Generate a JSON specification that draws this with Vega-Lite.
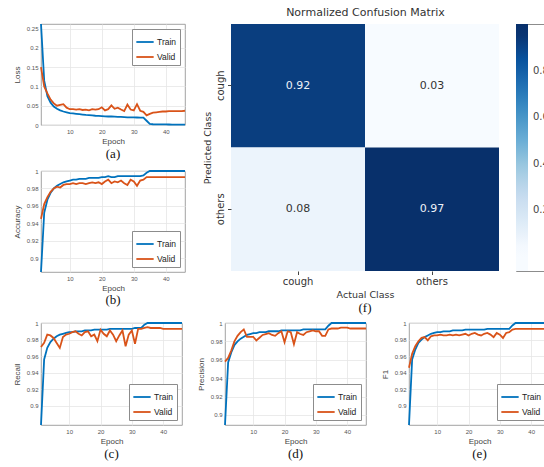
{
  "$schema": "https://vega.github.io/schema/vega-lite/v6.json",
  "background": "white",
  "padding": {"left": 12, "top": 6, "right": 0, "bottom": 0},
  "bounds": "flush",
  "spacing": 299,
  "resolve": {"scale": {"color": "independent"}, "legend": {"color": "independent"}},
  "datasets": {
    "loss": [
      {"epoch": 1, "Train": 0.262, "Valid": 0.150},
      {"epoch": 2, "Train": 0.115, "Valid": 0.100},
      {"epoch": 3, "Train": 0.075, "Valid": 0.082},
      {"epoch": 4, "Train": 0.058, "Valid": 0.066},
      {"epoch": 5, "Train": 0.048, "Valid": 0.056},
      {"epoch": 6, "Train": 0.042, "Valid": 0.050},
      {"epoch": 7, "Train": 0.038, "Valid": 0.052},
      {"epoch": 8, "Train": 0.035, "Valid": 0.054},
      {"epoch": 9, "Train": 0.033, "Valid": 0.045},
      {"epoch": 10, "Train": 0.031, "Valid": 0.041},
      {"epoch": 11, "Train": 0.030, "Valid": 0.041},
      {"epoch": 12, "Train": 0.029, "Valid": 0.040},
      {"epoch": 13, "Train": 0.028, "Valid": 0.041},
      {"epoch": 14, "Train": 0.027, "Valid": 0.039},
      {"epoch": 15, "Train": 0.026, "Valid": 0.040},
      {"epoch": 16, "Train": 0.0255, "Valid": 0.038},
      {"epoch": 17, "Train": 0.025, "Valid": 0.041},
      {"epoch": 18, "Train": 0.024, "Valid": 0.040},
      {"epoch": 19, "Train": 0.0235, "Valid": 0.041},
      {"epoch": 20, "Train": 0.023, "Valid": 0.046},
      {"epoch": 21, "Train": 0.0225, "Valid": 0.038},
      {"epoch": 22, "Train": 0.022, "Valid": 0.041},
      {"epoch": 23, "Train": 0.022, "Valid": 0.051},
      {"epoch": 24, "Train": 0.0215, "Valid": 0.042},
      {"epoch": 25, "Train": 0.021, "Valid": 0.045},
      {"epoch": 26, "Train": 0.021, "Valid": 0.040},
      {"epoch": 27, "Train": 0.0205, "Valid": 0.036},
      {"epoch": 28, "Train": 0.020, "Valid": 0.053},
      {"epoch": 29, "Train": 0.020, "Valid": 0.040},
      {"epoch": 30, "Train": 0.020, "Valid": 0.038},
      {"epoch": 31, "Train": 0.0195, "Valid": 0.054},
      {"epoch": 32, "Train": 0.019, "Valid": 0.037},
      {"epoch": 33, "Train": 0.019, "Valid": 0.034},
      {"epoch": 34, "Train": 0.011, "Valid": 0.025},
      {"epoch": 35, "Train": 0.003, "Valid": 0.029},
      {"epoch": 36, "Train": 0.002, "Valid": 0.032},
      {"epoch": 37, "Train": 0.0018, "Valid": 0.033},
      {"epoch": 38, "Train": 0.0016, "Valid": 0.034},
      {"epoch": 39, "Train": 0.0015, "Valid": 0.035},
      {"epoch": 40, "Train": 0.0014, "Valid": 0.035},
      {"epoch": 41, "Train": 0.0013, "Valid": 0.036},
      {"epoch": 42, "Train": 0.0012, "Valid": 0.036},
      {"epoch": 43, "Train": 0.0012, "Valid": 0.036},
      {"epoch": 44, "Train": 0.0011, "Valid": 0.036},
      {"epoch": 45, "Train": 0.0011, "Valid": 0.036},
      {"epoch": 46, "Train": 0.001, "Valid": 0.037}
    ],
    "accuracy": [
      {"epoch": 1, "Train": 0.884, "Valid": 0.945},
      {"epoch": 2, "Train": 0.952, "Valid": 0.962},
      {"epoch": 3, "Train": 0.967, "Valid": 0.970},
      {"epoch": 4, "Train": 0.975, "Valid": 0.976},
      {"epoch": 5, "Train": 0.980, "Valid": 0.980},
      {"epoch": 6, "Train": 0.983, "Valid": 0.982},
      {"epoch": 7, "Train": 0.985, "Valid": 0.981},
      {"epoch": 8, "Train": 0.987, "Valid": 0.984},
      {"epoch": 9, "Train": 0.988, "Valid": 0.985},
      {"epoch": 10, "Train": 0.989, "Valid": 0.985},
      {"epoch": 11, "Train": 0.990, "Valid": 0.986},
      {"epoch": 12, "Train": 0.990, "Valid": 0.985},
      {"epoch": 13, "Train": 0.991, "Valid": 0.986},
      {"epoch": 14, "Train": 0.991, "Valid": 0.986},
      {"epoch": 15, "Train": 0.991, "Valid": 0.985},
      {"epoch": 16, "Train": 0.992, "Valid": 0.986},
      {"epoch": 17, "Train": 0.992, "Valid": 0.987},
      {"epoch": 18, "Train": 0.992, "Valid": 0.986},
      {"epoch": 19, "Train": 0.992, "Valid": 0.987},
      {"epoch": 20, "Train": 0.993, "Valid": 0.985},
      {"epoch": 21, "Train": 0.993, "Valid": 0.988},
      {"epoch": 22, "Train": 0.994, "Valid": 0.990},
      {"epoch": 23, "Train": 0.993, "Valid": 0.986},
      {"epoch": 24, "Train": 0.993, "Valid": 0.988},
      {"epoch": 25, "Train": 0.994, "Valid": 0.987},
      {"epoch": 26, "Train": 0.994, "Valid": 0.989},
      {"epoch": 27, "Train": 0.994, "Valid": 0.986},
      {"epoch": 28, "Train": 0.994, "Valid": 0.984},
      {"epoch": 29, "Train": 0.994, "Valid": 0.990},
      {"epoch": 30, "Train": 0.994, "Valid": 0.988},
      {"epoch": 31, "Train": 0.994, "Valid": 0.983},
      {"epoch": 32, "Train": 0.994, "Valid": 0.989},
      {"epoch": 33, "Train": 0.995, "Valid": 0.990},
      {"epoch": 34, "Train": 0.998, "Valid": 0.993},
      {"epoch": 35, "Train": 1.0, "Valid": 0.993},
      {"epoch": 36, "Train": 1.0, "Valid": 0.993},
      {"epoch": 37, "Train": 1.0, "Valid": 0.993},
      {"epoch": 38, "Train": 1.0, "Valid": 0.993},
      {"epoch": 39, "Train": 1.0, "Valid": 0.993},
      {"epoch": 40, "Train": 1.0, "Valid": 0.993},
      {"epoch": 41, "Train": 1.0, "Valid": 0.993},
      {"epoch": 42, "Train": 1.0, "Valid": 0.993},
      {"epoch": 43, "Train": 1.0, "Valid": 0.993},
      {"epoch": 44, "Train": 1.0, "Valid": 0.993},
      {"epoch": 45, "Train": 1.0, "Valid": 0.993},
      {"epoch": 46, "Train": 1.0, "Valid": 0.993}
    ],
    "recall": [
      {"epoch": 1, "Train": 0.877, "Valid": 0.971},
      {"epoch": 2, "Train": 0.956, "Valid": 0.976},
      {"epoch": 3, "Train": 0.970, "Valid": 0.986},
      {"epoch": 4, "Train": 0.977, "Valid": 0.985},
      {"epoch": 5, "Train": 0.981, "Valid": 0.982},
      {"epoch": 6, "Train": 0.984, "Valid": 0.976},
      {"epoch": 7, "Train": 0.986, "Valid": 0.970},
      {"epoch": 8, "Train": 0.987, "Valid": 0.983},
      {"epoch": 9, "Train": 0.988, "Valid": 0.986},
      {"epoch": 10, "Train": 0.989, "Valid": 0.987},
      {"epoch": 11, "Train": 0.989, "Valid": 0.989},
      {"epoch": 12, "Train": 0.990, "Valid": 0.990},
      {"epoch": 13, "Train": 0.990, "Valid": 0.987},
      {"epoch": 14, "Train": 0.990, "Valid": 0.985},
      {"epoch": 15, "Train": 0.991, "Valid": 0.989},
      {"epoch": 16, "Train": 0.991, "Valid": 0.990},
      {"epoch": 17, "Train": 0.991, "Valid": 0.984},
      {"epoch": 18, "Train": 0.992, "Valid": 0.986},
      {"epoch": 19, "Train": 0.992, "Valid": 0.978},
      {"epoch": 20, "Train": 0.992, "Valid": 0.992},
      {"epoch": 21, "Train": 0.992, "Valid": 0.987},
      {"epoch": 22, "Train": 0.992, "Valid": 0.984},
      {"epoch": 23, "Train": 0.993, "Valid": 0.991},
      {"epoch": 24, "Train": 0.993, "Valid": 0.986},
      {"epoch": 25, "Train": 0.993, "Valid": 0.978},
      {"epoch": 26, "Train": 0.993, "Valid": 0.985},
      {"epoch": 27, "Train": 0.993, "Valid": 0.991},
      {"epoch": 28, "Train": 0.993, "Valid": 0.972},
      {"epoch": 29, "Train": 0.993, "Valid": 0.986},
      {"epoch": 30, "Train": 0.993, "Valid": 0.991},
      {"epoch": 31, "Train": 0.994, "Valid": 0.975},
      {"epoch": 32, "Train": 0.994, "Valid": 0.993},
      {"epoch": 33, "Train": 0.994, "Valid": 0.993},
      {"epoch": 34, "Train": 0.998, "Valid": 0.994},
      {"epoch": 35, "Train": 1.0, "Valid": 0.995},
      {"epoch": 36, "Train": 1.0, "Valid": 0.994},
      {"epoch": 37, "Train": 1.0, "Valid": 0.994},
      {"epoch": 38, "Train": 1.0, "Valid": 0.994},
      {"epoch": 39, "Train": 1.0, "Valid": 0.994},
      {"epoch": 40, "Train": 1.0, "Valid": 0.993},
      {"epoch": 41, "Train": 1.0, "Valid": 0.993},
      {"epoch": 42, "Train": 1.0, "Valid": 0.993},
      {"epoch": 43, "Train": 1.0, "Valid": 0.993},
      {"epoch": 44, "Train": 1.0, "Valid": 0.993},
      {"epoch": 45, "Train": 1.0, "Valid": 0.993},
      {"epoch": 46, "Train": 1.0, "Valid": 0.993}
    ],
    "precision": [
      {"epoch": 1, "Train": 0.889, "Valid": 0.958},
      {"epoch": 2, "Train": 0.957, "Valid": 0.962},
      {"epoch": 3, "Train": 0.968, "Valid": 0.970},
      {"epoch": 4, "Train": 0.976, "Valid": 0.980},
      {"epoch": 5, "Train": 0.980, "Valid": 0.986},
      {"epoch": 6, "Train": 0.983, "Valid": 0.990},
      {"epoch": 7, "Train": 0.985, "Valid": 0.993},
      {"epoch": 8, "Train": 0.987, "Valid": 0.985},
      {"epoch": 9, "Train": 0.988, "Valid": 0.985},
      {"epoch": 10, "Train": 0.989, "Valid": 0.985},
      {"epoch": 11, "Train": 0.989, "Valid": 0.981},
      {"epoch": 12, "Train": 0.990, "Valid": 0.984},
      {"epoch": 13, "Train": 0.990, "Valid": 0.987},
      {"epoch": 14, "Train": 0.990, "Valid": 0.988},
      {"epoch": 15, "Train": 0.991, "Valid": 0.989},
      {"epoch": 16, "Train": 0.991, "Valid": 0.987},
      {"epoch": 17, "Train": 0.991, "Valid": 0.986},
      {"epoch": 18, "Train": 0.991, "Valid": 0.989},
      {"epoch": 19, "Train": 0.992, "Valid": 0.991},
      {"epoch": 20, "Train": 0.992, "Valid": 0.979},
      {"epoch": 21, "Train": 0.992, "Valid": 0.991},
      {"epoch": 22, "Train": 0.992, "Valid": 0.990},
      {"epoch": 23, "Train": 0.992, "Valid": 0.977},
      {"epoch": 24, "Train": 0.992, "Valid": 0.990},
      {"epoch": 25, "Train": 0.992, "Valid": 0.988},
      {"epoch": 26, "Train": 0.993, "Valid": 0.987},
      {"epoch": 27, "Train": 0.993, "Valid": 0.990},
      {"epoch": 28, "Train": 0.993, "Valid": 0.991},
      {"epoch": 29, "Train": 0.993, "Valid": 0.992},
      {"epoch": 30, "Train": 0.993, "Valid": 0.991},
      {"epoch": 31, "Train": 0.993, "Valid": 0.991},
      {"epoch": 32, "Train": 0.993, "Valid": 0.986},
      {"epoch": 33, "Train": 0.993, "Valid": 0.986},
      {"epoch": 34, "Train": 0.997, "Valid": 0.993},
      {"epoch": 35, "Train": 1.0, "Valid": 0.994},
      {"epoch": 36, "Train": 1.0, "Valid": 0.994},
      {"epoch": 37, "Train": 1.0, "Valid": 0.994},
      {"epoch": 38, "Train": 1.0, "Valid": 0.995},
      {"epoch": 39, "Train": 1.0, "Valid": 0.995},
      {"epoch": 40, "Train": 1.0, "Valid": 0.995},
      {"epoch": 41, "Train": 1.0, "Valid": 0.994},
      {"epoch": 42, "Train": 1.0, "Valid": 0.994},
      {"epoch": 43, "Train": 1.0, "Valid": 0.994},
      {"epoch": 44, "Train": 1.0, "Valid": 0.994},
      {"epoch": 45, "Train": 1.0, "Valid": 0.994},
      {"epoch": 46, "Train": 1.0, "Valid": 0.994}
    ],
    "f1": [
      {"epoch": 1, "Train": 0.877, "Valid": 0.946},
      {"epoch": 2, "Train": 0.956, "Valid": 0.963},
      {"epoch": 3, "Train": 0.968, "Valid": 0.972},
      {"epoch": 4, "Train": 0.976, "Valid": 0.978},
      {"epoch": 5, "Train": 0.980, "Valid": 0.982},
      {"epoch": 6, "Train": 0.983, "Valid": 0.983},
      {"epoch": 7, "Train": 0.985, "Valid": 0.979},
      {"epoch": 8, "Train": 0.987, "Valid": 0.984},
      {"epoch": 9, "Train": 0.988, "Valid": 0.985},
      {"epoch": 10, "Train": 0.989, "Valid": 0.985},
      {"epoch": 11, "Train": 0.989, "Valid": 0.986},
      {"epoch": 12, "Train": 0.990, "Valid": 0.985},
      {"epoch": 13, "Train": 0.990, "Valid": 0.985},
      {"epoch": 14, "Train": 0.990, "Valid": 0.986},
      {"epoch": 15, "Train": 0.991, "Valid": 0.985},
      {"epoch": 16, "Train": 0.991, "Valid": 0.986},
      {"epoch": 17, "Train": 0.991, "Valid": 0.985},
      {"epoch": 18, "Train": 0.991, "Valid": 0.986},
      {"epoch": 19, "Train": 0.992, "Valid": 0.987},
      {"epoch": 20, "Train": 0.992, "Valid": 0.985},
      {"epoch": 21, "Train": 0.992, "Valid": 0.987},
      {"epoch": 22, "Train": 0.992, "Valid": 0.988},
      {"epoch": 23, "Train": 0.992, "Valid": 0.986},
      {"epoch": 24, "Train": 0.992, "Valid": 0.985},
      {"epoch": 25, "Train": 0.992, "Valid": 0.987},
      {"epoch": 26, "Train": 0.993, "Valid": 0.988},
      {"epoch": 27, "Train": 0.993, "Valid": 0.986},
      {"epoch": 28, "Train": 0.993, "Valid": 0.983},
      {"epoch": 29, "Train": 0.993, "Valid": 0.988},
      {"epoch": 30, "Train": 0.993, "Valid": 0.986},
      {"epoch": 31, "Train": 0.993, "Valid": 0.982},
      {"epoch": 32, "Train": 0.993, "Valid": 0.988},
      {"epoch": 33, "Train": 0.993, "Valid": 0.989},
      {"epoch": 34, "Train": 0.997, "Valid": 0.992},
      {"epoch": 35, "Train": 1.0, "Valid": 0.993},
      {"epoch": 36, "Train": 1.0, "Valid": 0.993},
      {"epoch": 37, "Train": 1.0, "Valid": 0.993},
      {"epoch": 38, "Train": 1.0, "Valid": 0.993},
      {"epoch": 39, "Train": 1.0, "Valid": 0.993},
      {"epoch": 40, "Train": 1.0, "Valid": 0.993},
      {"epoch": 41, "Train": 1.0, "Valid": 0.993},
      {"epoch": 42, "Train": 1.0, "Valid": 0.993},
      {"epoch": 43, "Train": 1.0, "Valid": 0.993},
      {"epoch": 44, "Train": 1.0, "Valid": 0.993},
      {"epoch": 45, "Train": 1.0, "Valid": 0.993},
      {"epoch": 46, "Train": 1.0, "Valid": 0.993}
    ],
    "cm": [
      {"actual": "cough", "predicted": "cough", "value": 0.92},
      {"actual": "others", "predicted": "cough", "value": 0.03},
      {"actual": "cough", "predicted": "others", "value": 0.08},
      {"actual": "others", "predicted": "others", "value": 0.97}
    ]
  },
  "vconcat": [
    {
      "hconcat": [
        {
          "vconcat": [
            {
              "width": 144, "height": 101,
              "data": {"name": "loss"},
              "transform": [{"fold": ["Train", "Valid"], "as": ["set", "value"]}],
              "title": {"text": "(a)", "orient": "bottom"},
              "mark": {"type": "line"},
              "encoding": {
                "x": {"field": "epoch", "type": "quantitative", "scale": {"domain": [1, 46], "nice": false}, "axis": {"title": "Epoch", "values": [10, 20, 30, 40]}},
                "y": {"field": "value", "type": "quantitative", "scale": {"domain": [0, 0.262], "nice": false, "zero": false}, "axis": {"title": "Loss", "values": [0, 0.05, 0.1, 0.15, 0.2, 0.25], "format": "~g"}},
                "color": {"field": "set", "type": "nominal", "legend": {"orient": "top-right", "title": null}}
              }
            },
            {
              "width": 144, "height": 101,
              "data": {"name": "accuracy"},
              "transform": [{"fold": ["Train", "Valid"], "as": ["set", "value"]}],
              "title": {"text": "(b)", "orient": "bottom", "offset": 2},
              "mark": {"type": "line"},
              "encoding": {
                "x": {"field": "epoch", "type": "quantitative", "scale": {"domain": [1, 46], "nice": false}, "axis": {"title": "Epoch", "values": [10, 20, 30, 40]}},
                "y": {"field": "value", "type": "quantitative", "scale": {"domain": [0.884, 1], "nice": false, "zero": false}, "axis": {"title": "Accuracy", "values": [0.9, 0.92, 0.94, 0.96, 0.98, 1], "format": "~g"}},
                "color": {"field": "set", "type": "nominal", "legend": {"orient": "bottom-right", "title": null}}
              }
            }
          ],
          "spacing": 46,
          "bounds": "flush",
          "resolve": {"scale": {"color": "independent"}, "legend": {"color": "independent"}}
        },
        {
          "width": 268, "height": 247,
          "view": {"stroke": null},
          "data": {"name": "cm"},
          "title": {"text": "(f)", "orient": "bottom", "offset": 3},
          "encoding": {
            "y": {"field": "predicted", "type": "nominal", "sort": ["cough", "others"], "scale": {"paddingInner": 0, "paddingOuter": 0},
              "axis": {"title": "Predicted Class", "labelAngle": 270, "labelAlign": "center", "labelBaseline": "bottom", "grid": false, "domain": false, "ticks": true, "tickSize": 3.5, "tickColor": "#444444", "labelFont": "DejaVu Sans", "labelFontSize": 10, "labelColor": "#333333", "labelPadding": 2, "titleFont": "DejaVu Sans", "titleFontSize": 9.5, "titleFontWeight": "normal", "titleColor": "#333333", "titlePadding": 3}}
          },
          "resolve": {"axis": {"x": "independent"}},
          "layer": [
            {
              "mark": {"type": "rect"},
              "encoding": {
                "x": {"field": "actual", "type": "nominal", "sort": ["cough", "others"], "scale": {"paddingInner": 0, "paddingOuter": 0},
                  "axis": {"title": "Actual Class", "orient": "bottom", "labelAngle": 0, "grid": false, "domain": false, "ticks": true, "tickSize": 3.5, "tickColor": "#444444", "labelFont": "DejaVu Sans", "labelFontSize": 10, "labelColor": "#333333", "labelPadding": 2, "titleFont": "DejaVu Sans", "titleFontSize": 9.5, "titleFontWeight": "normal", "titleColor": "#333333", "titlePadding": 3}},
                "color": {"field": "value", "type": "quantitative",
                  "scale": {"domain": [-0.06, 0.03, 0.1475, 0.265, 0.3825, 0.5, 0.6175, 0.735, 0.8525, 0.97, 1.0],
                            "range": ["#f7fbff", "#f7fbff", "#deebf7", "#c6dbef", "#9ecae1", "#6baed6", "#4292c6", "#2171b5", "#08519c", "#08306b", "#08306b"]},
                  "legend": {"title": null, "orient": "right", "offset": 17, "gradientLength": 247, "gradientThickness": 12, "gradientStrokeWidth": 0, "values": [0.2, 0.4, 0.6, 0.8], "labelOverlap": false, "labelFont": "DejaVu Sans", "labelFontSize": 10, "labelColor": "#444444", "labelOffset": 5, "padding": 0, "strokeColor": null}}
              }
            },
            {
              "mark": {"type": "text", "font": "DejaVu Sans", "fontSize": 11},
              "encoding": {
                "x": {"field": "actual", "type": "nominal", "sort": ["cough", "others"],
                  "axis": {"title": "Normalized Confusion Matrix", "orient": "top", "labels": false, "ticks": false, "domain": false, "grid": false, "titleFont": "DejaVu Sans", "titleFontSize": 11, "titleFontWeight": "normal", "titleColor": "#333333", "titlePadding": 7}},
                "text": {"field": "value", "type": "quantitative", "format": ".2f"},
                "color": {"condition": {"test": "datum.value > 0.5", "value": "#eef2f8"}, "value": "#333333"}
              }
            }
          ]
        }
      ],
      "spacing": 190,
      "bounds": "flush",
      "resolve": {"scale": {"color": "independent"}, "legend": {"color": "independent"}}
    },
    {
      "hconcat": [
        {
          "width": 141, "height": 102,
          "data": {"name": "recall"},
          "transform": [{"fold": ["Train", "Valid"], "as": ["set", "value"]}],
          "title": {"text": "(c)", "orient": "bottom"},
          "mark": {"type": "line"},
          "encoding": {
            "x": {"field": "epoch", "type": "quantitative", "scale": {"domain": [1, 46], "nice": false}, "axis": {"title": "Epoch", "values": [10, 20, 30, 40]}},
            "y": {"field": "value", "type": "quantitative", "scale": {"domain": [0.877, 1], "nice": false, "zero": false}, "axis": {"title": "Recall", "values": [0.9, 0.92, 0.94, 0.96, 0.98, 1], "format": "~g"}},
            "color": {"field": "set", "type": "nominal", "legend": {"orient": "bottom-right", "title": null}}
          }
        },
        {
          "width": 141, "height": 102,
          "data": {"name": "precision"},
          "transform": [{"fold": ["Train", "Valid"], "as": ["set", "value"]}],
          "title": {"text": "(d)", "orient": "bottom"},
          "mark": {"type": "line"},
          "encoding": {
            "x": {"field": "epoch", "type": "quantitative", "scale": {"domain": [1, 46], "nice": false}, "axis": {"title": "Epoch", "values": [10, 20, 30, 40]}},
            "y": {"field": "value", "type": "quantitative", "scale": {"domain": [0.889, 1], "nice": false, "zero": false}, "axis": {"title": "Precision", "values": [0.9, 0.92, 0.94, 0.96, 0.98, 1], "format": "~g"}},
            "color": {"field": "set", "type": "nominal", "legend": {"orient": "bottom-right", "title": null}}
          }
        },
        {
          "width": 141, "height": 102,
          "data": {"name": "f1"},
          "transform": [{"fold": ["Train", "Valid"], "as": ["set", "value"]}],
          "title": {"text": "(e)", "orient": "bottom"},
          "mark": {"type": "line"},
          "encoding": {
            "x": {"field": "epoch", "type": "quantitative", "scale": {"domain": [1, 46], "nice": false}, "axis": {"title": "Epoch", "values": [10, 20, 30, 40]}},
            "y": {"field": "value", "type": "quantitative", "scale": {"domain": [0.877, 1], "nice": false, "zero": false}, "axis": {"title": "F1", "values": [0.9, 0.92, 0.94, 0.96, 0.98, 1], "format": "~g"}},
            "color": {"field": "set", "type": "nominal", "legend": {"orient": "bottom-right", "title": null}}
          }
        }
      ],
      "spacing": 43,
      "bounds": "flush",
      "resolve": {"scale": {"color": "independent"}, "legend": {"color": "independent"}}
    }
  ],
  "config": {
    "font": "Liberation Sans",
    "view": {"stroke": "#8a8a8a", "strokeWidth": 0.8},
    "range": {"category": ["#0072BD", "#D95319"]},
    "line": {"strokeWidth": 1.8},
    "axisQuantitative": {"grid": true, "gridColor": "#e6e6e6", "gridWidth": 0.8, "domain": false, "ticks": false, "labelFontSize": 6, "labelColor": "#555555", "labelPadding": 3, "titleFontSize": 8, "titleFontWeight": "normal", "titleColor": "#444444"},
    "axisX": {"titlePadding": 3},
    "axisY": {"titlePadding": 5},
    "legend": {"symbolType": "stroke", "symbolStrokeWidth": 2, "symbolSize": 300, "labelFontSize": 8.5, "labelColor": "#222222", "fillColor": "white", "strokeColor": "#8c8c8c", "padding": 3, "rowPadding": 0, "offset": 5, "labelOffset": 2},
    "title": {"font": "Liberation Serif", "fontSize": 13, "fontWeight": "normal", "color": "#111111", "offset": 3}
  }
}
